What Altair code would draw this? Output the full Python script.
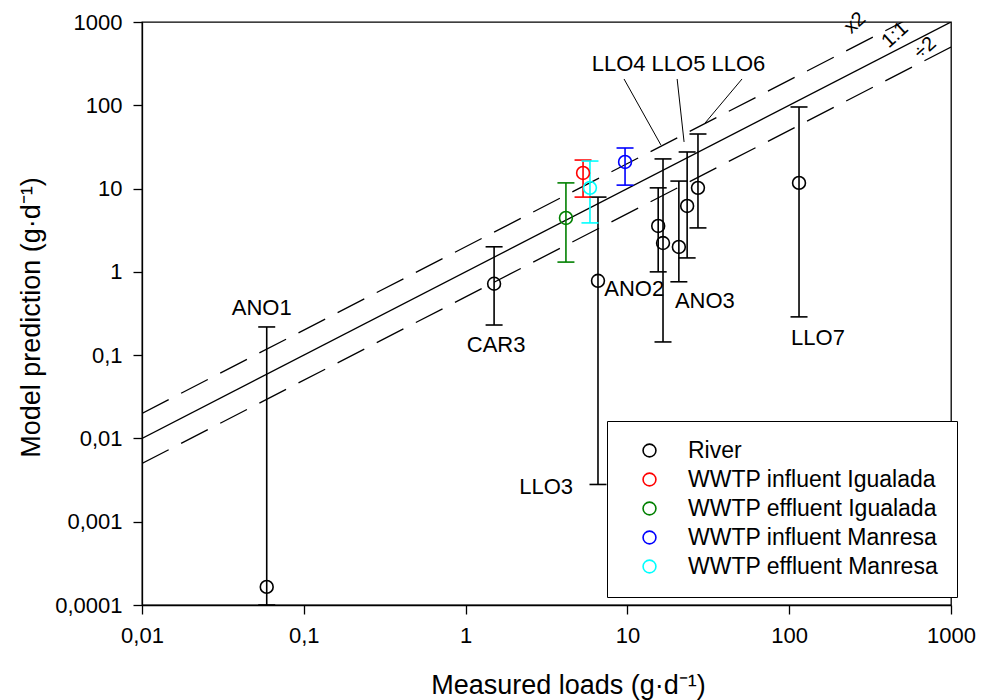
import altair as alt
import pandas as pd

# River sampling sites: measured load vs. model prediction (with uncertainty range)
river_sites = ["ANO1", "CAR3", "LLO3", "ANO2", "LLO4", "ANO3", "LLO5", "LLO6", "LLO7"]
river_measured = [0.059, 1.50, 6.58, 15.5, 16.6, 20.8, 23.4, 27.3, 115]
river_predicted = [0.000165, 0.72, 0.78, 3.56, 2.22, 1.99, 6.18, 10.2, 11.7]
river_pred_low = [0.0001, 0.23, 0.0028, 1.0, 0.144, 0.76, 1.47, 3.37, 0.288]
river_pred_high = [0.218, 2.0, 7.9, 10.2, 22.7, 12.3, 27.5, 45.2, 95.4]

# Wastewater treatment plant samples
wwtp_groups = ["WWTP influent Igualada", "WWTP effluent Igualada",
               "WWTP influent Manresa", "WWTP effluent Manresa"]
wwtp_measured = [5.32, 4.17, 9.67, 5.87]
wwtp_predicted = [15.4, 4.44, 20.9, 10.2]
wwtp_pred_low = [7.9, 1.31, 11.0, 3.87]
wwtp_pred_high = [22.0, 11.7, 30.7, 21.4]

groups = ["River"] + wwtp_groups
group_colors = ["#000000", "#ff0000", "#008000", "#0000ff", "#00ffff"]

# Agreement lines (prediction = ratio * measured)
line_ends = [0.01, 1000]
ratio_values = [1, 2, 0.5]
ratio_labels = ["1:1", "x2", "÷2"]

# Axis ticks
x_ticks = [0.01, 0.1, 1, 10, 100, 1000]
x_tick_labels = ["0,01", "0,1", "1", "10", "100", "1000"]
y_ticks = [0.0001, 0.001, 0.01, 0.1, 1, 10, 100, 1000]
y_tick_labels = ["0,0001", "0,001", "0,01", "0,1", "1", "10", "100", "1000"]

FONT = "Liberation Sans"

color_of = dict(zip(groups, group_colors))
rows = []
for n, x, y, lo, hi in zip(river_sites, river_measured, river_predicted,
                           river_pred_low, river_pred_high):
    rows.append(dict(name=n, group="River", x=x, y=y, lo=lo, hi=hi))
for g, x, y, lo, hi in zip(wwtp_groups, wwtp_measured, wwtp_predicted,
                           wwtp_pred_low, wwtp_pred_high):
    rows.append(dict(name="", group=g, x=x, y=y, lo=lo, hi=hi))
points = pd.DataFrame(rows)
points["hex"] = points["group"].map(color_of)

lines = pd.DataFrame([
    dict(ratio=lab, x=xe, y=xe * r)
    for r, lab in zip(ratio_values, ratio_labels) for xe in line_ends
])


def label_expr(values, labels):
    expr = "''"
    for v, l in reversed(list(zip(values, labels))):
        expr = f"datum.value == {v} ? '{l}' : ({expr})"
    return expr


xscale = alt.Scale(type="log", domain=[0.01, 1000], nice=False)
yscale = alt.Scale(type="log", domain=[0.0001, 1000], nice=False)

X = alt.X("x:Q", scale=xscale, axis=alt.Axis(
    values=x_ticks, labelExpr=label_expr(x_ticks, x_tick_labels),
    title="Measured loads (g·d⁻¹)", titleX=426, titleY=88,
    titleBaseline="alphabetic", titleAlign="center"))
Y = alt.Y("y:Q", scale=yscale, axis=alt.Axis(
    values=y_ticks, labelExpr=label_expr(y_ticks, y_tick_labels),
    title="Model prediction (g·d⁻¹)", titleX=-97, titleY=295,
    titleBaseline="bottom", titleAlign="center"))

base_lines = alt.Chart(lines)
solid = base_lines.transform_filter(alt.datum.ratio == "1:1").mark_line(
    color="black", strokeWidth=1.3, clip=True
).encode(x=X, y=Y)
dashed = base_lines.transform_filter(alt.datum.ratio != "1:1").mark_line(
    color="black", strokeWidth=1.3, strokeDash=[30, 14], clip=True
).encode(x=alt.X("x:Q", scale=xscale), y=alt.Y("y:Q", scale=yscale),
         detail="ratio:N")

base = alt.Chart(points)
bars = base.mark_rule(strokeWidth=1.6, clip=True).encode(
    x=alt.X("x:Q", scale=xscale),
    y=alt.Y("lo:Q", scale=yscale),
    y2="hi:Q",
    stroke=alt.Stroke("hex:N", scale=None),
)
caps_hi = base.mark_rule(strokeWidth=1.6, xOffset=-8.5, x2Offset=8.5, clip=True).encode(
    x=alt.X("x:Q", scale=xscale), x2="x:Q",
    y=alt.Y("hi:Q", scale=yscale),
    stroke=alt.Stroke("hex:N", scale=None),
)
caps_lo = base.mark_rule(strokeWidth=1.6, xOffset=-8.5, x2Offset=8.5, clip=True).encode(
    x=alt.X("x:Q", scale=xscale), x2="x:Q",
    y=alt.Y("lo:Q", scale=yscale),
    stroke=alt.Stroke("hex:N", scale=None),
)
dots = base.mark_point(shape="circle", size=165, strokeWidth=1.6, filled=False,
                       opacity=1).encode(
    x=alt.X("x:Q", scale=xscale),
    y=alt.Y("y:Q", scale=yscale),
    color=alt.Color("group:N", scale=alt.Scale(domain=groups, range=group_colors),
                    legend=alt.Legend(
                        title=None, orient="none", legendX=465, legendY=399,
                        direction="vertical", strokeColor="black",
                        fillColor="white", padding=18, symbolOffset=13,
                        symbolType="circle", symbolSize=165,
                        symbolStrokeWidth=1.6, labelFont=FONT,
                        labelFontSize=23, labelColor="black",
                        labelOffset=27, rowPadding=5, labelLimit=400)),
)

# Site labels placed next to their error bars: (site, bar end, dx, dy, align)
site_label_layout = [
    ("ANO1", "hi", -5, -19, "center"),
    ("CAR3", "lo", 2, 20, "center"),
    ("LLO3", "lo", -25, 3, "right"),
    ("ANO2", "lo", -24, 17, "center"),
    ("ANO3", "lo", 26, 19, "center"),
    ("LLO7", "lo", 19, 21, "center"),
]
site_labels = [
    base.transform_filter(alt.datum.name == n).mark_text(
        dx=dx, dy=dy, align=al, baseline="middle", font=FONT, fontSize=22,
        color="black"
    ).encode(x=alt.X("x:Q", scale=xscale), y=alt.Y(f"{end}:Q", scale=yscale),
             text="name:N")
    for n, end, dx, dy, al in site_label_layout
]

# Shared label for the three clustered Llobregat sites, with leader lines
cluster_text = pd.DataFrame([dict(x=20.7, y=313, t="LLO4 LLO5 LLO6")])
cluster_label = alt.Chart(cluster_text).mark_text(
    font=FONT, fontSize=22, color="black", baseline="middle"
).encode(x=alt.X("x:Q", scale=xscale), y=alt.Y("y:Q", scale=yscale), text="t:N")

leaders = pd.DataFrame([
    dict(x=9.53, y=207, x2=16.1, y2=33.4),
    dict(x=20.3, y=207, x2=22.4, y2=36.3),
    dict(x=51.1, y=207, x2=30.2, y2=61.3),
])
leader_lines = alt.Chart(leaders).mark_rule(color="black", strokeWidth=1).encode(
    x=alt.X("x:Q", scale=xscale), y=alt.Y("y:Q", scale=yscale),
    x2="x2:Q", y2="y2:Q")

ratio_text = pd.DataFrame([
    dict(t="1:1", x=451, y=698),
    dict(t="x2", x=255, y=973),
    dict(t="÷2", x=691, y=487),
])
ratio_labels_layer = alt.Chart(ratio_text).mark_text(
    font=FONT, fontSize=20, color="black", angle=318, baseline="middle"
).encode(x=alt.X("x:Q", scale=xscale), y=alt.Y("y:Q", scale=yscale), text="t:N")

chart = alt.layer(
    solid, dashed, bars, caps_hi, caps_lo, dots, *site_labels,
    cluster_label, leader_lines, ratio_labels_layer
).properties(
    width=809, height=583,
    padding={"left": 142, "top": 22, "right": 30, "bottom": 95},
    autosize=alt.AutoSizeParams(type="none"),
    background="white",
).configure_view(
    stroke="black", strokeWidth=1.3
).configure_axis(
    grid=False, domainColor="black", domainWidth=1.3,
    tickColor="black", tickWidth=1.3, tickSize=9,
    labelFont=FONT, labelFontSize=22, labelColor="black", labelPadding=11,
    labelFlush=False, labelOverlap=False, labelBound=False,
    titleFont=FONT, titleFontSize=27, titleFontWeight="normal", titleColor="black",
)

chart.save("out.html", embed_options={"renderer": "svg", "actions": False})
